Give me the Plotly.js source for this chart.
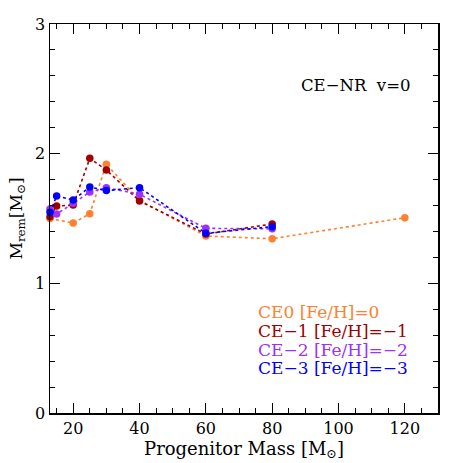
<!DOCTYPE html>
<html><head><meta charset="utf-8">
<script src="https://cdn.plot.ly/plotly-3.0.1.min.js"></script>
<style>html,body{margin:0;padding:0;background:#fff}#c{width:463px;height:463px}</style>
</head><body><div id="c"></div>
<script>
const massCE0 = [13, 20, 25, 30, 40, 60, 80, 120];
const remCE0  = [1.50, 1.465, 1.537, 1.918, 1.64, 1.365, 1.344, 1.506];
const massCE1 = [13, 15, 20, 25, 30, 40, 60, 80];
const remCE1  = [1.514, 1.596, 1.604, 1.964, 1.874, 1.635, 1.38, 1.458];
const massCE2 = [13, 15, 20, 25, 30, 40, 60, 80];
const remCE2  = [1.573, 1.535, 1.617, 1.704, 1.738, 1.687, 1.424, 1.42];
const massCE3 = [13, 15, 20, 25, 30, 40, 60, 80];
const remCE3  = [1.548, 1.673, 1.643, 1.743, 1.715, 1.738, 1.386, 1.437];
const seriesNames = ['CE0 [Fe/H]=0', 'CE\u22121 [Fe/H]=\u22121', 'CE\u22122 [Fe/H]=\u22122', 'CE\u22123 [Fe/H]=\u22123'];
const colors = ['#ff8030', '#a00000', '#9b30ff', '#0000ff'];
const masses = [massCE0, massCE1, massCE2, massCE3];
const rems = [remCE0, remCE1, remCE2, remCE3];

const font = 'DejaVu Serif, serif';
const traces = masses.map((m, i) => ({
  x: m, y: rems[i], type: 'scatter', mode: 'lines+markers',
  line: {color: colors[i], width: 1.6, dash: 'dot'},
  marker: {color: colors[i], size: 7.5},
  name: seriesNames[i], showlegend: false, cliponaxis: false
}));

const annotations = seriesNames.map((n, i) => ({
  text: n, xref: 'paper', yref: 'paper', x: (256 - 50) / 388, y: (413 - (312 + i * 18.8)) / 389,
  xanchor: 'left', yanchor: 'middle', showarrow: false,
  font: {family: font, size: 17, color: colors[i]}
}));
annotations.push({
  text: 'CE\u2212NR  v=0', xref: 'paper', yref: 'paper', x: (413 - 50) / 388, y: (413 - 85) / 389,
  xanchor: 'right', yanchor: 'middle', showarrow: false,
  font: {family: font, size: 16.5, color: '#000'}
});

const layout = {
  width: 463, height: 463,
  margin: {l: 50, r: 25, t: 24, b: 50},
  paper_bgcolor: '#fff', plot_bgcolor: '#fff',
  font: {family: font, size: 16, color: '#000'},
  showlegend: false,
  xaxis: {
    range: [13, 130], tickvals: [20, 40, 60, 80, 100, 120], ticks: 'inside', ticklen: 10, tickwidth: 1,
    tickcolor: '#000', showline: true, linecolor: '#000', linewidth: 1.5, mirror: 'ticks',
    showgrid: false, zeroline: false,
    minor: {dtick: 5, tick0: 0, ticks: 'inside', ticklen: 5, tickcolor: '#000', showgrid: false},
    title: {text: 'Progenitor Mass [M<sub>\u2299</sub>]', font: {family: font, size: 18}, standoff: 2},
    tickfont: {family: font, size: 16}
  },
  yaxis: {
    range: [0, 3], tickvals: [0, 1, 2, 3], ticks: 'inside', ticklen: 10, tickwidth: 1,
    tickcolor: '#000', showline: true, linecolor: '#000', linewidth: 1.5, mirror: 'ticks',
    showgrid: false, zeroline: false,
    minor: {dtick: 0.2, tick0: 0, ticks: 'inside', ticklen: 5, tickcolor: '#000', showgrid: false},
    title: {text: 'M<sub>rem</sub>[M<sub>\u2299</sub>]', font: {family: font, size: 17}, standoff: 8},
    tickfont: {family: font, size: 16}
  },
  annotations: annotations
};
Plotly.newPlot('c', traces, layout, {displayModeBar: false, staticPlot: true});
</script></body></html>
